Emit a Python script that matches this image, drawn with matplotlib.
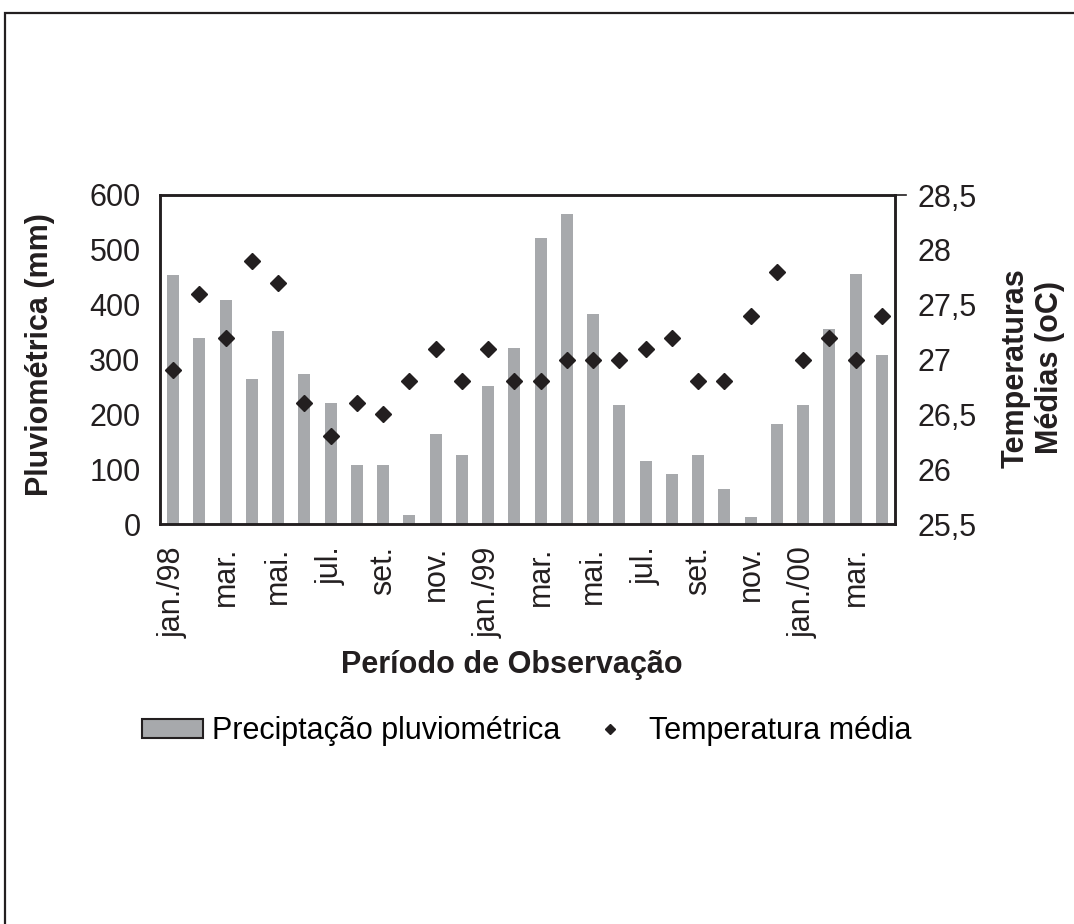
import matplotlib
matplotlib.use("Agg")
import matplotlib.pyplot as plt
from matplotlib.patches import Patch, Rectangle
from matplotlib.lines import Line2D

plt.rcParams['font.family'] = ['Liberation Sans', 'DejaVu Sans']

# monthly data jan/98 .. apr/00
months = ['jan./98', 'fev.', 'mar.', 'abr.', 'mai.', 'jun.', 'jul.', 'ago.', 'set.', 'out.', 'nov.', 'dez.',
          'jan./99', 'fev.', 'mar.', 'abr.', 'mai.', 'jun.', 'jul.', 'ago.', 'set.', 'out.', 'nov.', 'dez.',
          'jan./00', 'fev.', 'mar.', 'abr.']
precip = [455, 339, 409, 265, 352, 274, 221, 108, 108, 17, 165, 126,
          252, 321, 522, 565, 383, 217, 114, 92, 126, 64, 13, 183,
          217, 356, 456, 308]
temp = [26.9, 27.6, 27.2, 27.9, 27.7, 26.6, 26.3, 26.6, 26.5, 26.8, 27.1, 26.8,
        27.1, 26.8, 26.8, 27.0, 27.0, 27.0, 27.1, 27.2, 26.8, 26.8, 27.4, 27.8,
        27.0, 27.2, 27.0, 27.4]
temp_ticks = [25.5, 26, 26.5, 27, 27.5, 28, 28.5]
temp_tick_labels = ['25,5', '26', '26,5', '27', '27,5', '28', '28,5']

bar_color = '#a7a9ac'
dark = '#231f20'
fs = 22

W, H = 1074, 924
fig = plt.figure(figsize=(W / 100, H / 100), dpi=100)
ax = fig.add_axes([160 / W, 1 - 524 / H, (895 - 160) / W, (524 - 195) / H])

x = list(range(len(months)))
ax.bar(x, precip, width=0.45, color=bar_color, zorder=1)
ax.set_xlim(-0.5, len(months) - 0.5)
ax.set_ylim(0, 600)
ax.set_yticks(range(0, 601, 100))
ax.set_xticks(x[::2])
ax.set_xticklabels(months[::2], rotation=90, fontsize=fs, va='top', ha='center')
ax.tick_params(axis='y', length=0, pad=14, labelsize=fs, colors=dark)
ax.tick_params(axis='x', length=0, pad=16, colors=dark)

ax2 = ax.twinx()
ax2.plot(x, temp, linestyle='none', marker='D', markersize=8.5, color=dark, zorder=3)
ax2.set_ylim(25.5, 28.5)
ax2.set_yticks(temp_ticks)
ax2.set_yticklabels(temp_tick_labels)
ax2.tick_params(axis='y', length=0, pad=16, labelsize=fs, colors=dark)

for a in (ax, ax2):
    for s in a.spines.values():
        s.set_linewidth(1.8)
        s.set_color(dark)

# small tick at top of the right axis
fig.add_artist(Line2D([895 / W, 906 / W], [1 - 195 / H, 1 - 195 / H], transform=fig.transFigure,
                      color=dark, linewidth=1.2))

fig.text(40 / W, 1 - 355 / H, 'Pluviométrica (mm)', rotation=90, fontsize=fs,
         fontweight='bold', ha='center', va='center', color=dark)
fig.text(1033 / W, 1 - 368 / H, 'Temperaturas\nMédias (oC)', rotation=90, fontsize=fs,
         fontweight='bold', ha='center', va='center', color=dark, linespacing=1.2)
fig.text(512 / W, 1 - 665 / H, 'Período de Observação', fontsize=fs,
         fontweight='bold', ha='center', va='center', color=dark)

handles = [Patch(facecolor=bar_color, edgecolor=dark, linewidth=1.5),
           Line2D([], [], linestyle='none', marker='D', markersize=5, color=dark)]
fig.legend(handles, ['Preciptação pluviométrica', 'Temperatura média'],
           loc='center', bbox_to_anchor=(527 / W, 1 - 731 / H), ncol=2, frameon=False,
           fontsize=fs, handlelength=2.0, handleheight=0.6, handletextpad=0.3,
           columnspacing=0.6)

# outer frame (left and top edges visible)
fig.add_artist(Rectangle((5 / W, -0.1), 1.2, 1.1 - 13 / H, transform=fig.transFigure,
                         fill=False, edgecolor=dark, linewidth=1.6))

fig.savefig('out.png', dpi=100, facecolor='white')
